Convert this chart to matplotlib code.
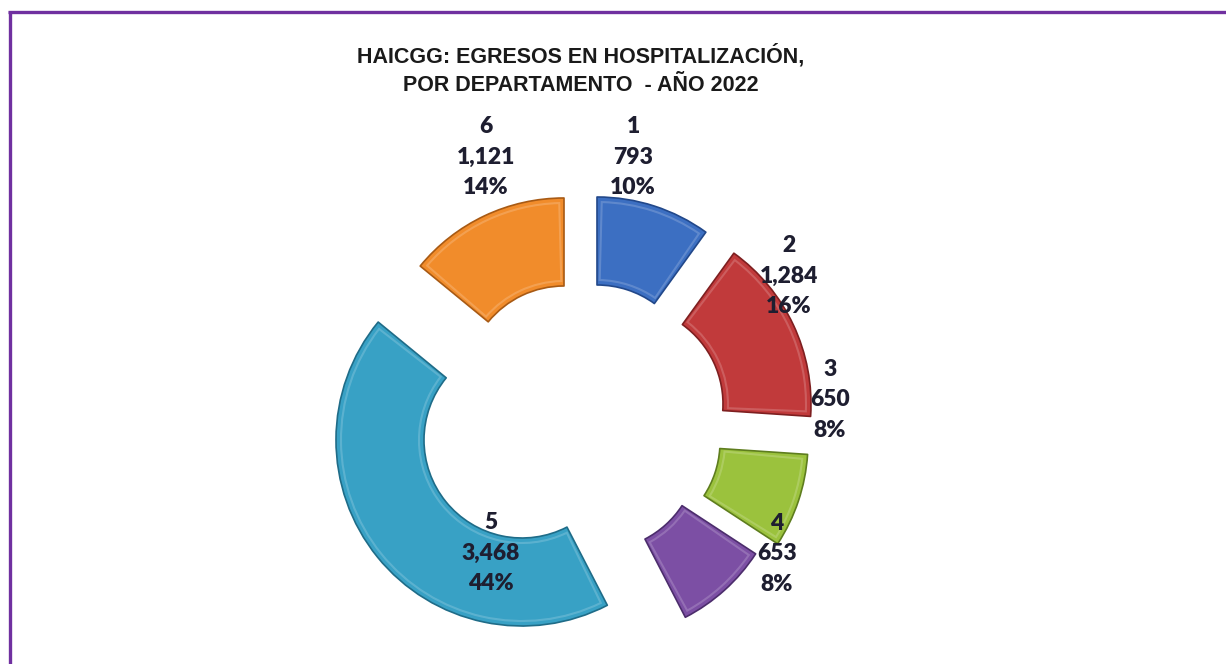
import matplotlib
matplotlib.use("Agg")
import matplotlib.pyplot as plt
from matplotlib.patches import Wedge
from matplotlib.lines import Line2D

# ---- data ----
categories = ["1", "2", "3", "4", "5", "6"]
values = [793, 1284, 650, 653, 3468, 1121]
title = "HAICGG: EGRESOS EN HOSPITALIZACIÓN,\nPOR DEPARTAMENTO  - AÑO 2022"

# ---- style / layout (pixel coordinates, y measured downward) ----
colors = ["#3C6FC2", "#C13A3B", "#9BC23D", "#7C4FA4", "#38A1C5", "#F18C2B"]
edge_colors = ["#22488A", "#7E1F20", "#5E7D1E", "#4C2D6C", "#1F6C88", "#A85A14"]
slice_centers = [(597, 383), (625, 404), (622, 442), (600, 452), (522, 440), (564, 384)]
label_pos = [(633, 157), (789, 276), (830, 400), (777, 554), (491, 553), (486, 157)]
R_OUT, R_IN = 186, 98
W, H = 1226, 664

fig = plt.figure(figsize=(W / 100, H / 100), dpi=100)
ax = fig.add_axes([0, 0, 1, 1])
ax.set_xlim(0, W)
ax.set_ylim(0, H)
ax.axis("off")

def py(y):
    return H - y

total = float(sum(values))
start = 0.0  # degrees clockwise from 12 o'clock
for i, v in enumerate(values):
    span = 360.0 * v / total
    a0, a1 = start, start + span
    cx, cy = slice_centers[i]
    w = Wedge((cx, py(cy)), R_OUT, 90 - a1, 90 - a0, width=R_OUT - R_IN,
              facecolor=colors[i], edgecolor=edge_colors[i], linewidth=1.2,
              joinstyle="round")
    ax.add_patch(w)
    # subtle inner highlight to mimic bevel
    hl = Wedge((cx, py(cy)), R_OUT - 5, 90 - a1 + 1.5, 90 - a0 - 1.5,
               width=R_OUT - R_IN - 10, facecolor="none",
               edgecolor="white", linewidth=1.5, alpha=0.18)
    ax.add_patch(hl)
    pct = 100.0 * v / total
    lx, ly = label_pos[i]
    ax.text(lx, py(ly), f"{categories[i]}\n{v:,}\n{pct:.0f}%",
            ha="center", va="center", fontsize=16.5, fontweight="heavy",
            family=["Lato", "DejaVu Sans"], color="#1E1E30", linespacing=1.55)
    start = a1

ax.text(581, py(70), title, ha="center", va="center", fontsize=15.5,
        fontweight="bold", family=["Liberation Sans", "DejaVu Sans"],
        color="#1A1A1A", linespacing=1.45)

# purple frame (left and top edges)
ax.add_line(Line2D([9.5, 9.5], [0, py(11)], color="#7030A0", linewidth=2.4,
                   solid_capstyle="butt"))
ax.add_line(Line2D([8, W], [py(12), py(12)], color="#7030A0", linewidth=2.4,
                   solid_capstyle="butt"))

fig.savefig("out.png", dpi=100, facecolor="white")
